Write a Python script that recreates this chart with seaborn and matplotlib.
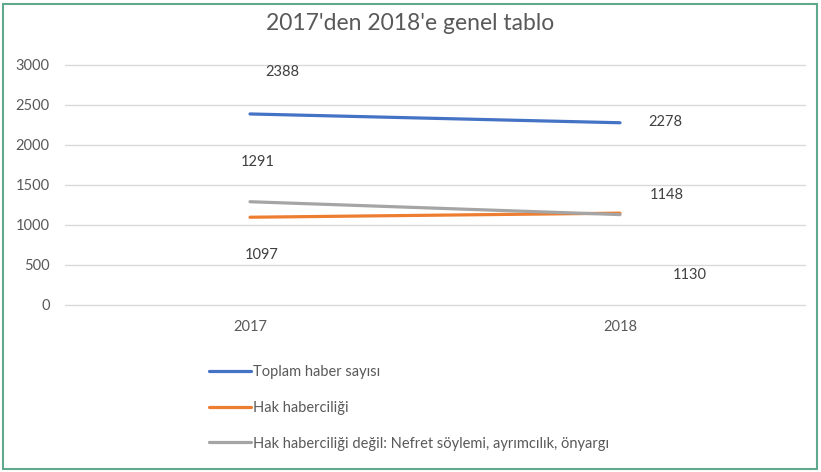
import pandas as pd
import seaborn as sns
import matplotlib.pyplot as plt
from matplotlib.patches import Rectangle

years = ["2017", "2018"]
series_names = [
    "Toplam haber sayısı",
    "Hak haberciliği",
    "Hak haberciliği değil: Nefret söylemi, ayrımcılık, önyargı",
]
toplam = [2388, 2278]
hak = [1097, 1148]
nefret = [1291, 1130]
colors = ["#4472c4", "#ed7d31", "#a5a5a5"]

# label offsets in pixels (dx, dy; dy positive = up), mimicking the moved Excel labels
label_offsets = {
    series_names[0]: [(32, 42), (45, 1)],
    series_names[1]: [(12, -38), (47, 18)],
    series_names[2]: [(8, 40), (70, -60)],
}

df = pd.DataFrame({
    "year": years * 3,
    "value": toplam + hak + nefret,
    "series": [s for s in series_names for _ in years],
})

sns.set_theme(style="white")
plt.rcParams["font.family"] = ["Lato", "DejaVu Sans"]
text_color = "#595959"

fig = plt.figure(figsize=(8.21, 4.72), dpi=100)
ax = fig.add_axes([65 / 821, (472 - 305) / 472, 740 / 821, 240 / 472])

sns.lineplot(data=df, x="year", y="value", hue="series", palette=colors,
             linewidth=2.3, ax=ax, sort=False)

ax.set_xlim(-0.5, 1.5)
ax.set_ylim(0, 3000)
ax.set_yticks(range(0, 3001, 500))
ax.yaxis.grid(True, color="#d9d9d9", linewidth=1)
for gl in ax.get_ygridlines():
    gl.set_clip_on(False)
ax.set_axisbelow(True)
for sp in ax.spines.values():
    sp.set_visible(False)
ax.tick_params(axis="both", length=0, labelsize=10.5, colors=text_color)
ax.tick_params(axis="y", pad=11)
ax.tick_params(axis="x", pad=11)
ax.set_xlabel("")
ax.set_ylabel("")

for name, vals in zip(series_names, [toplam, hak, nefret]):
    for i, v in enumerate(vals):
        dx, dy = label_offsets[name][i]
        ax.annotate(str(v), (i, v), xytext=(dx * 0.72, dy * 0.72),
                    textcoords="offset points", ha="center", va="center",
                    fontsize=10.5, color="#404040")

handles, labels = ax.get_legend_handles_labels()
ax.legend_.remove()
fig.legend(handles, labels, loc="upper left", bbox_to_anchor=(203 / 821, 1 - 359 / 472),
           frameon=False, fontsize=10.5, labelcolor=text_color, handlelength=2.9,
           handletextpad=0.15, labelspacing=1.5, borderaxespad=0)

fig.text(0.5, 1 - 23 / 472, "2017'den 2018'e genel tablo", ha="center", va="center",
         fontsize=16.5, color=text_color)

fig.patches.append(Rectangle((3 / 821, 3 / 472), 1 - 7 / 821, 1 - 7 / 472,
                             transform=fig.transFigure, fill=False,
                             edgecolor="#5fa98c", linewidth=1.5))

fig.savefig("out.png", dpi=100)
